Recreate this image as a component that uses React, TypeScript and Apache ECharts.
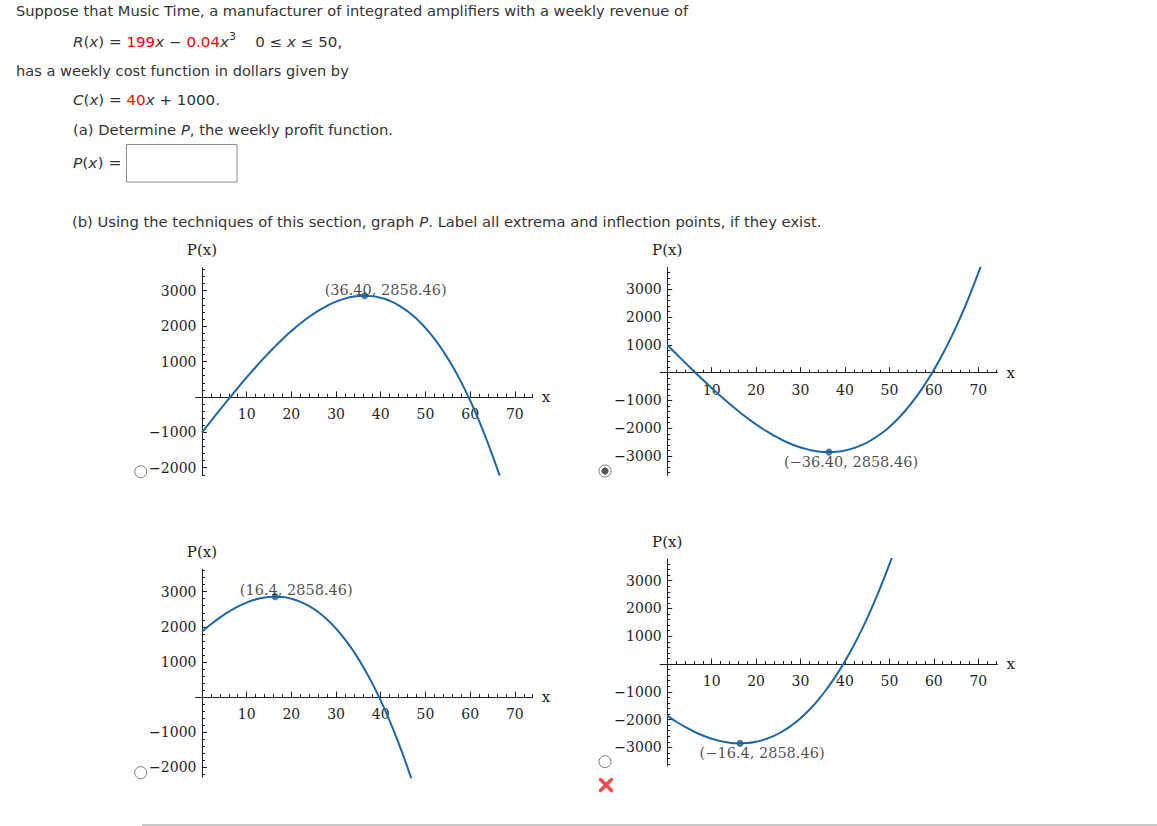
import React, { useEffect, useRef } from 'react';
import * as echarts from 'echarts';

// ---------- data ----------
const xTopLeft = [0, 2, 4, 6, 8, 10, 12, 14, 16, 18, 20, 22, 24, 26, 28, 30, 32, 34, 36, 38, 40, 42, 44, 46, 48, 50, 52, 54, 56, 58, 60, 62, 64, 66, 68];
const profitTopLeft = [-1000, -682, -367, -55, 252, 550, 839, 1116, 1380, 1629, 1860, 2072, 2263, 2431, 2574, 2690, 2777, 2834, 2858, 2847, 2800, 2714, 2589, 2421, 2208, 1950, 1644, 1287, 879, 418, -100, -675, -1310, -2006, -2765];

const xTopRight = [0, 2, 4, 6, 8, 10, 12, 14, 16, 18, 20, 22, 24, 26, 28, 30, 32, 34, 36, 38, 40, 42, 44, 46, 48, 50, 52, 54, 56, 58, 60, 62, 64, 66, 68, 70, 72];
const profitTopRight = [1000, 682, 367, 55, -252, -550, -839, -1116, -1380, -1629, -1860, -2072, -2263, -2431, -2574, -2690, -2777, -2834, -2858, -2847, -2800, -2714, -2589, -2421, -2208, -1950, -1644, -1287, -879, -418, 100, 675, 1310, 2006, 2765, 3590, 4482];

const xBottomLeft = [0, 2, 4, 6, 8, 10, 12, 14, 16, 18, 20, 22, 24, 26, 28, 30, 32, 34, 36, 38, 40, 42, 44, 46, 48];
const profitBottomLeft = [1860, 2072, 2263, 2431, 2574, 2690, 2777, 2834, 2858, 2847, 2800, 2714, 2589, 2421, 2208, 1950, 1644, 1287, 879, 418, -100, -675, -1310, -2006, -2765];

const xBottomRight = [0, 2, 4, 6, 8, 10, 12, 14, 16, 18, 20, 22, 24, 26, 28, 30, 32, 34, 36, 38, 40, 42, 44, 46, 48, 50, 52];
const profitBottomRight = [-1860, -2072, -2263, -2431, -2574, -2690, -2777, -2834, -2858, -2847, -2800, -2714, -2589, -2421, -2208, -1950, -1644, -1287, -879, -418, 100, 675, 1310, 2006, 2765, 3590, 4482];

const extremaX = [36.4, 36.4, 16.4, 16.4];
const extremaY = [2858.46, -2858.46, 2858.46, -2858.46];
const extremaLabels = ['(36.40, 2858.46)', '(\u221236.40, 2858.46)', '(16.4, 2858.46)', '(\u221216.4, 2858.46)'];

const xTickLabels = [10, 20, 30, 40, 50, 60, 70];
const yTickLabelsLeft = [-2000, -1000, 1000, 2000, 3000];
const yTickLabelsRight = [-3000, -2000, -1000, 1000, 2000, 3000];

// ---------- styles ----------
const SERIF = 'DejaVu Serif';
const SANS = 'DejaVu Sans';
const INK = '#1e1e1e';
const TEXT = '#333';
const RED = '#ff0000';
const CURVE = '#1f67a3';
const DOT = '#1a5b92';

function ticks(a: number, b: number, step: number) {
  const out: number[] = [];
  const start = Math.ceil(a / step) * step;
  for (let v = start; v <= b + 1e-9; v += step) out.push(Math.round(v * 1000) / 1000);
  return out;
}

const fmtY = (v: number) => (v < 0 ? '\u2212' + Math.abs(v) : String(v));

const panels = [
  { grid: { left: 195.7, top: 267.7, width: 337.0, height: 207.1 }, xr: [-1.4, 74], yr: [-2200, 3650], xs: xTopLeft, ys: profitTopLeft, yl: yTickLabelsLeft, off: [21, -6] },
  { grid: { left: 660.1, top: 267.7, width: 337.3, height: 207.8 }, xr: [-1.6, 74.3], yr: [-3700, 3780], xs: xTopRight, ys: profitTopRight, yl: yTickLabelsRight, off: [22, 10] },
  { grid: { left: 195.7, top: 569.2, width: 337.0, height: 208.0 }, xr: [-1.4, 74], yr: [-2280, 3640], xs: xBottomLeft, ys: profitBottomLeft, yl: yTickLabelsLeft, off: [21, -6.5] },
  { grid: { left: 660.1, top: 559.0, width: 337.3, height: 207.2 }, xr: [-1.6, 74.3], yr: [-3680, 3780], xs: xBottomRight, ys: profitBottomRight, yl: yTickLabelsRight, off: [22, 9.5] },
];

function buildOption() {
  const grid: any[] = [];
  const xAxis: any[] = [];
  const yAxis: any[] = [];
  const series: any[] = [];

  panels.forEach((p, i) => {
    grid.push({ ...p.grid, containLabel: false, outerBoundsMode: 'none' });
    const xMinor = ticks(2, p.xr[1], 2);
    const yMinor = ticks(p.yr[0], p.yr[1], 200).filter((v) => v !== 0);
    // labels stay at the grid edge, so shift them onto the zero lines
    const zeroFromBottom = (p.grid.height * (0 - p.yr[0])) / (p.yr[1] - p.yr[0]);
    const zeroFromLeft = (p.grid.width * (0 - p.xr[0])) / (p.xr[1] - p.xr[0]);
    xAxis.push({
      type: 'value', gridIndex: i, min: p.xr[0], max: p.xr[1], position: 'bottom',
      axisLine: { show: true, onZero: true, lineStyle: { color: INK, width: 1 } },
      axisTick: { show: true, inside: true, length: 3, customValues: xMinor, lineStyle: { color: INK, width: 1 } },
      axisLabel: { show: true, customValues: xTickLabels, margin: 10 - zeroFromBottom, color: INK, fontFamily: SERIF, fontSize: 14 },
      splitLine: { show: false },
      name: 'x', nameLocation: 'end', nameGap: 9,
      nameTextStyle: { color: INK, fontFamily: SERIF, fontSize: 15 },
    });
    xAxis.push({
      type: 'value', gridIndex: i, min: p.xr[0], max: p.xr[1], position: 'top',
      axisLine: { show: false, onZero: true },
      axisTick: { show: true, inside: false, length: 5.5, customValues: xTickLabels, lineStyle: { color: INK, width: 1 } },
      axisLabel: { show: false },
      splitLine: { show: false },
    });
    yAxis.push({
      type: 'value', gridIndex: i, min: p.yr[0], max: p.yr[1], position: 'left',
      axisLine: { show: true, onZero: true, lineStyle: { color: INK, width: 1 } },
      axisTick: { show: true, inside: true, length: 3, customValues: yMinor, lineStyle: { color: INK, width: 1 } },
      axisLabel: { show: true, customValues: p.yl, margin: 5.5 - zeroFromLeft, color: INK, fontFamily: SERIF, fontSize: 14, formatter: fmtY },
      splitLine: { show: false },
      name: 'P(x)', nameLocation: 'end', nameGap: 10,
      nameTextStyle: { color: INK, fontFamily: SERIF, fontSize: 15 },
    });
    yAxis.push({
      type: 'value', gridIndex: i, min: p.yr[0], max: p.yr[1], position: 'right',
      axisLine: { show: false, onZero: true },
      axisTick: { show: true, inside: false, length: 5, customValues: p.yl, lineStyle: { color: INK, width: 1 } },
      axisLabel: { show: false },
      splitLine: { show: false },
    });
    series.push({
      type: 'line', xAxisIndex: 2 * i, yAxisIndex: 2 * i,
      data: p.xs.map((x, k) => [x, p.ys[k]]),
      smooth: true, symbol: 'none', clip: true,
      lineStyle: { color: CURVE, width: 2 },
      z: 2,
    });
    series.push({
      type: 'scatter', xAxisIndex: 2 * i, yAxisIndex: 2 * i,
      data: [[extremaX[i], extremaY[i]]],
      symbolSize: 7, itemStyle: { color: DOT },
      label: {
        show: true, position: 'inside', offset: p.off, formatter: extremaLabels[i],
        color: INK, fontFamily: SERIF, fontSize: 14.5, textBorderWidth: 0,
      },
      z: 3,
    });
  });

  const FS = 13.5;
  const rich = {
    i: { fontStyle: 'italic', fontFamily: SANS, fontSize: FS, fill: TEXT, color: TEXT },
    r: { fontFamily: SANS, fontSize: FS, fill: RED, color: RED },
    sup: { fontFamily: SANS, fontSize: 10, fill: TEXT, color: TEXT, padding: [0, 0, 12, 0] },
  };
  const txt = (x: number, y: number, text: string, sx: number) => ({
    type: 'text', x, y, scaleX: sx, silent: true,
    style: {
      text, fontFamily: SANS, fontSize: FS, fill: TEXT,
      textAlign: 'left', align: 'left', textVerticalAlign: 'middle', verticalAlign: 'middle',
      rich,
    },
  });

  const radio = (cx: number, cy: number) => ({
    type: 'circle', shape: { cx, cy, r: 6 }, style: { fill: '#fff', stroke: '#7a7a7a', lineWidth: 1 }, silent: true,
  });

  const graphic: any[] = [
    txt(16, 11, 'Suppose that Music Time, a manufacturer of integrated amplifiers with a weekly revenue of', 1.085),
    txt(73, 42, '{i|R}({i|x}) = {r|199}{i|x} \u2212 {r|0.04}{i|x}{sup|3}    0 \u2264 {i|x} \u2264 50,', 1.118),
    txt(16, 71, 'has a weekly cost function in dollars given by', 1.081),
    txt(73, 100, '{i|C}({i|x}) = {r|40}{i|x} + 1000.', 1.118),
    txt(73, 130, '(a) Determine {i|P}, the weekly profit function.', 1.093),
    txt(73, 163.5, '{i|P}({i|x}) =', 1.146),
    { type: 'rect', shape: { x: 126.5, y: 144.5, width: 110.5, height: 37.5 }, style: { fill: '#fff', stroke: '#8c8c8c', lineWidth: 1 }, silent: true },
    txt(72, 222, '(b) Using the techniques of this section, graph {i|P}. Label all extrema and inflection points, if they exist.', 1.093),
    radio(140.7, 471.7),
    radio(605, 471),
    { type: 'circle', shape: { cx: 605, cy: 471, r: 3.6 }, style: { fill: '#555' }, silent: true },
    radio(140.7, 772.7),
    radio(605, 761.7),
    { type: 'line', shape: { x1: 600.5, y1: 779.5, x2: 611.5, y2: 790.5 }, style: { stroke: '#ee4b4b', lineWidth: 3.5, lineCap: 'round' }, silent: true },
    { type: 'line', shape: { x1: 611.5, y1: 779.5, x2: 600.5, y2: 790.5 }, style: { stroke: '#ee4b4b', lineWidth: 3.5, lineCap: 'round' }, silent: true },
    { type: 'line', shape: { x1: 142, y1: 825, x2: 1157, y2: 825 }, style: { stroke: '#c8c8c8', lineWidth: 2 }, silent: true },
  ];

  return {
    animation: false,
    backgroundColor: '#fff',
    grid, xAxis, yAxis, series, graphic,
  };
}

export default function App() {
  const ref = useRef<HTMLDivElement>(null);
  useEffect(() => {
    const chart = echarts.init(ref.current as HTMLDivElement, null, { renderer: 'svg' });
    chart.setOption(buildOption() as any);
    return () => chart.dispose();
  }, []);
  return (
    <div
      ref={ref}
      style={{ position: 'fixed', left: 0, top: 0, width: 1157, height: 826, background: '#fff' }}
    />
  );
}
